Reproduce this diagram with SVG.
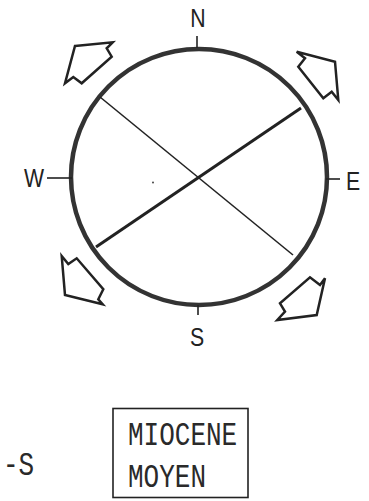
<svg xmlns="http://www.w3.org/2000/svg" width="369" height="501" viewBox="0 0 369 501">
<style>
.lbl{font-family:"Liberation Sans",Arial,sans-serif;font-size:25px;fill:#222;text-anchor:middle}
.mono{font-family:"Liberation Mono","Courier New",monospace;font-size:26px;fill:#2a2a2a}
.arrow{fill:#fff;stroke:#222;stroke-width:2.5;stroke-linejoin:miter}
.tick{stroke:#222;stroke-width:1.6}
</style>
<rect width="369" height="501" fill="#fff"/>
<g id="compass">
<circle cx="199" cy="177" r="128" fill="none" stroke="#333" stroke-width="4.5"/>
<line class="tick" x1="197" y1="36" x2="197" y2="48"/>
<line class="tick" x1="198" y1="305" x2="198" y2="315"/>
<line class="tick" x1="47" y1="178" x2="72" y2="178"/>
<line class="tick" x1="326" y1="179" x2="340" y2="179"/>
<text class="lbl" transform="translate(198,27) scale(0.85,1)">N</text>
<text class="lbl" transform="translate(197,346) scale(0.85,1)">S</text>
<text class="lbl" transform="translate(34,187) scale(0.85,1)">W</text>
<text class="lbl" transform="translate(353,190) scale(0.85,1)">E</text>
<circle cx="153" cy="182.5" r="0.9" fill="#333"/>
</g>
<g id="faults">
<line x1="100" y1="97" x2="293" y2="255" stroke="#222" stroke-width="1.6"/>
<line x1="301" y1="108" x2="96" y2="247" stroke="#222" stroke-width="3"/>
</g>
<g id="arrow-nw"><polygon class="arrow" points="75,46 112.7,42.3 106.7,48.3 111.7,56.7 81.7,83.3 73.3,77 65,83.3"/></g>
<g id="arrow-ne"><polygon class="arrow" points="296.7,51.7 335,61.7 338.3,100 331.7,91.7 323.3,98.3 298.3,66.7 305,58.3"/></g>
<g id="arrow-sw"><polygon class="arrow" points="61.7,256 68.3,264 76.7,258.3 103.3,289.3 98.3,299.3 102.7,304.3 65,295"/></g>
<g id="arrow-se"><polygon class="arrow" points="325,278.3 320,285 310,277.3 280,303.3 285,311.7 277.3,320 316.7,315"/></g>
<g id="legend">
<text class="mono" transform="translate(3,475) scale(1,1.28)">-S</text>
<rect x="113" y="408.5" width="135" height="89" fill="none" stroke="#222" stroke-width="1.6"/>
<text class="mono" transform="translate(128,445) scale(1,1.28)">MIOCENE</text>
<text class="mono" transform="translate(128,487) scale(1,1.28)">MOYEN</text>
</g>
</svg>
